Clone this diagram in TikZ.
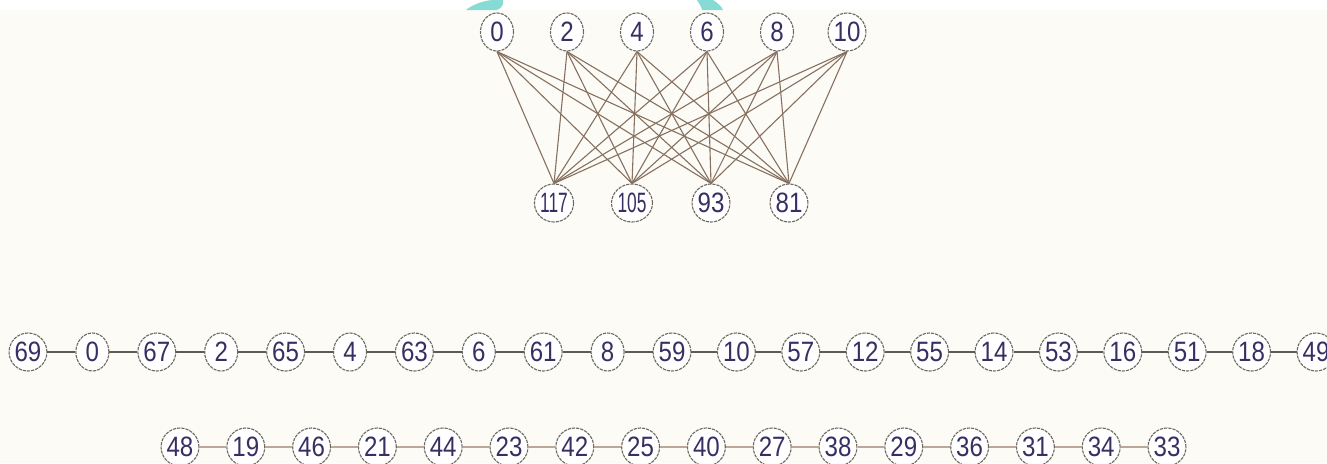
\documentclass[tikz,border=0pt]{standalone}
\usepackage{fontspec}
\setmainfont{Liberation Sans}
\usetikzlibrary{shapes.geometric}
\definecolor{bgc}{HTML}{FDFBF6}
\definecolor{txc}{HTML}{372F63}
\definecolor{bdc}{HTML}{6E6862}
\definecolor{bpe}{HTML}{86705F}
\definecolor{r1e}{HTML}{5E5A58}
\definecolor{r2e}{HTML}{BBA898}
\definecolor{cy}{HTML}{86DCD4}
\tikzset{
  vtx/.style={ellipse, draw=bdc, line width=0.55pt, dash pattern=on 1.6pt off 0.5pt,
    fill=white, minimum width=16.5pt, minimum height=19pt, inner sep=0pt,
    text=txc, font=\fontsize{14}{14}\selectfont},
  bpedge/.style={draw=bpe, line width=0.55pt},
  r1edge/.style={draw=r1e, line width=0.65pt},
  r2edge/.style={draw=r2e, line width=0.65pt},
}
\newcommand{\nlab}[1]{\scalebox{0.86}[1]{#1}}
\newcommand{\wlab}[1]{\scalebox{0.62}[1]{#1}}
\begin{document}
\begin{tikzpicture}[x=0.5pt,y=-0.5pt]
\useasboundingbox (0,0) rectangle (1327,463);
\fill[bgc] (0,0) rectangle (1327,463);
\fill[white] (0,0) rectangle (1327,10);
% cyan blobs at the top edge
\fill[cy] (466,10) .. controls (472,5) and (482,1) .. (492,0) -- (503,0) .. controls (504,4) and (502,8) .. (497,10) -- cycle;
\fill[cy] (697,0) -- (713,0) .. controls (718,3) and (722,7) .. (723,10) -- (702,10) .. controls (701,6) and (699,3) .. (697,0) -- cycle;
% bipartite part
\foreach \l [count=\i from 0] in {0,2,4,6,8,10}
  \node[vtx] (t\i) at ({497+70*\i},32) {\nlab{\l}};
\node[vtx] (b0) at (554,203) {\wlab{117}};
\node[vtx] (b1) at (632,203) {\wlab{105}};
\node[vtx] (b2) at (711,203) {\nlab{93}};
\node[vtx] (b3) at (789,203) {\nlab{81}};
\foreach \i in {0,...,5}
  \foreach \j in {0,...,3}
    \draw[bpedge] (t\i.south) -- (b\j.north);
% row 1
\foreach \l [count=\i from 0] in {69,0,67,2,65,4,63,6,61,8,59,10,57,12,55,14,53,16,51,18,49}
  \node[vtx] (ra\i) at ({28+64.4*\i},352) {\nlab{\l}};
\foreach \i [evaluate=\i as \k using int(\i+1)] in {0,...,19}
  \draw[r1edge] (ra\i.east) -- (ra\k.west);
% row 2
\foreach \l [count=\i from 0] in {48,19,46,21,44,23,42,25,40,27,38,29,36,31,34,33}
  \node[vtx] (rb\i) at ({180+65.8*\i},447) {\nlab{\l}};
\foreach \i [evaluate=\i as \k using int(\i+1)] in {0,...,14}
  \draw[r2edge] (rb\i.east) -- (rb\k.west);
\end{tikzpicture}
\end{document}
